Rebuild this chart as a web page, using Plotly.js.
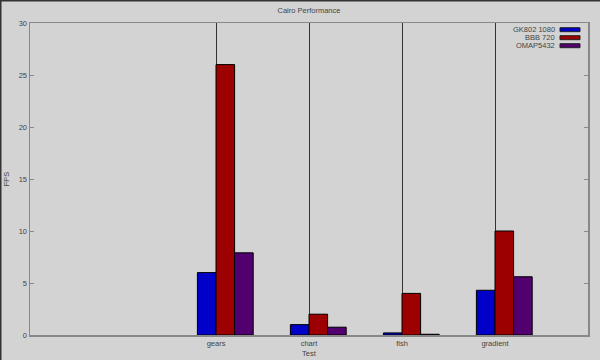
<!DOCTYPE html>
<html>
<head>
<meta charset="utf-8">
<script src="https://cdn.plot.ly/plotly-3.0.1.min.js"></script>
<style>
html,body{margin:0;padding:0;background:#d3d3d3;}
#chart{width:600px;height:360px;}
</style>
</head>
<body>
<div id="chart"></div>
<script>
const categories = ["gears", "chart", "fish", "gradient"];
const seriesNames = ["GK802 1080", "BBB 720", "OMAP5432"];
const gk802 = [6.0, 1.0, 0.2, 4.3];
const bbb720 = [26.0, 2.0, 4.0, 10.0];
const omap5432 = [7.9, 0.75, 0.07, 5.6];
const yTicks = [0, 5, 10, 15, 20, 25, 30];

const colors = ["#0000c8", "#9c0000", "#520070"];
const values = [gk802, bbb720, omap5432];
const offsets = [-0.2, 0, 0.2];
const idx = categories.map((c, i) => i);

const font = {family: "Liberation Sans, Arial, sans-serif", size: 7.5, color: "#444"};

const traces = values.map((v, k) => ({
  type: "bar",
  x: idx,
  y: v,
  name: seriesNames[k],
  width: 0.2,
  offset: offsets[k],
  marker: {color: colors[k], line: {color: "#000", width: 1}},
  showlegend: false,
  hoverinfo: "skip"
}));

// plot area in pixels: left 30, right 588, top 23, bottom 335
const L = 30, R = 588, T = 23, B = 335;
const px = x => (x - L) / (R - L);
const py = y => (B - y) / (B - T);

const shapes = [];
const annotations = [];
seriesNames.forEach((n, k) => {
  const cy = 29.7 + k * 8;
  annotations.push({
    xref: "paper", yref: "paper", x: px(557), y: py(cy),
    xanchor: "right", yanchor: "middle", text: n, showarrow: false,
    font: font
  });
  shapes.push({
    type: "rect", xref: "paper", yref: "paper",
    x0: px(560), x1: px(580), y0: py(cy + 2), y1: py(cy - 2),
    fillcolor: colors[k], line: {color: "#222", width: 1}
  });
});
// dark frame on left and top edges
shapes.push({type: "line", xref: "paper", yref: "paper", x0: px(0.5), x1: px(0.5), y0: py(0), y1: py(360), line: {color: "#333", width: 2}});
shapes.push({type: "line", xref: "paper", yref: "paper", x0: px(0), x1: px(600), y0: py(0.5), y1: py(0.5), line: {color: "#333", width: 2}});

const layout = {
  width: 600, height: 360,
  margin: {l: L, r: 600 - R, t: T, b: 360 - B, pad: 0},
  paper_bgcolor: "#d3d3d3",
  plot_bgcolor: "#d3d3d3",
  barmode: "overlay",
  font: font,
  title: {text: "Cairo Performance", font: font, x: 0.515, xanchor: "center", y: 0.97, yanchor: "middle"},
  xaxis: {
    range: [-2, 4],
    tickvals: idx,
    ticktext: categories,
    ticks: "",
    showgrid: true,
    gridcolor: "#333",
    gridwidth: 1,
    zeroline: false,
    showline: true,
    linecolor: "#888",
    linewidth: 1.5,
    mirror: true,
    tickfont: font,
    title: {text: "Test", font: font, standoff: 4}
  },
  yaxis: {
    range: [0, 30],
    tickvals: yTicks,
    ticks: "inside",
    ticklen: 4,
    tickcolor: "#888",
    showgrid: false,
    zeroline: false,
    showline: true,
    linecolor: "#888",
    linewidth: 1.5,
    mirror: "ticks",
    tickfont: font,
    title: {text: "FPS", font: font, standoff: 8}
  },
  shapes: shapes,
  annotations: annotations
};

Plotly.newPlot("chart", traces, layout, {displayModeBar: false, staticPlot: true});
</script>
</body>
</html>
